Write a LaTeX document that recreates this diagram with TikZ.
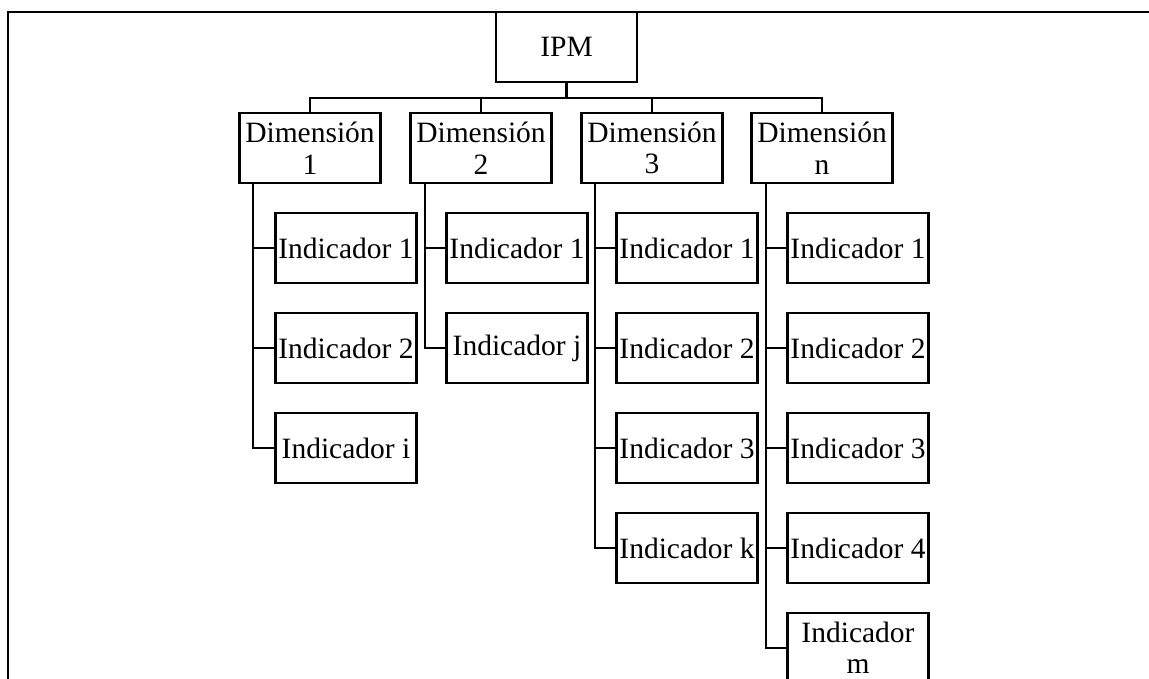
\documentclass[tikz,border=0pt]{standalone}
\usepackage{fontspec}
\setmainfont{Liberation Serif}
\begin{document}
\begin{tikzpicture}[x=1pt,y=-1pt,
  box/.style={draw=black,line width=2.4pt,fill=white,minimum width=141pt,minimum height=70pt,inner sep=0pt,align=center,font=\fontsize{29.5}{31.5}\selectfont},
  conn/.style={draw=black,line width=2.4pt}]
\useasboundingbox (0,0) rectangle (1149,679);
\clip (0,0) rectangle (1149,679);
\fill[white] (0,0) rectangle (1149,679);
\draw[line width=2.2pt] (8,680) -- (8,12) -- (1150,12);
% top
\node[box] (ipm) at (566.5,47) {IPM};
\node[box] (d1) at (310,148) {Dimensión\\1};
\node[box] (d2) at (481,148) {Dimensión\\2};
\node[box] (d3) at (652,148) {Dimensión\\3};
\node[box] (dn) at (822,148) {Dimensión\\n};
\coordinate (bus) at (566.5,98);
\draw[conn] (ipm.south) -- (ipm.south |- bus);
\draw[conn] (d1.north) -- (d1.north |- bus) -- (dn.north |- bus) -- (dn.north);
\draw[conn] (d2.north) -- (d2.north |- bus);
\draw[conn] (d3.north) -- (d3.north |- bus);
% indicators
\node[box] (a1) at (346,248) {Indicador 1};
\node[box] (a2) at (346,348) {Indicador 2};
\node[box] (a3) at (346,448) {Indicador i};
\node[box] (b1) at (517,248) {Indicador 1};
\node[box] (b2) at (517,348) {Indicador j};
\node[box] (c1) at (687,248) {Indicador 1};
\node[box] (c2) at (687,348) {Indicador 2};
\node[box] (c3) at (687,448) {Indicador 3};
\node[box] (c4) at (687,548) {Indicador k};
\node[box] (e1) at (858,248) {Indicador 1};
\node[box] (e2) at (858,348) {Indicador 2};
\node[box] (e3) at (858,448) {Indicador 3};
\node[box] (e4) at (858,548) {Indicador 4};
\node[box] (e5) at (858,648) {Indicador\\m};
\coordinate (v1) at ([xshift=-57pt]d1.south);
\coordinate (v2) at ([xshift=-56pt]d2.south);
\coordinate (v3) at ([xshift=-57pt]d3.south);
\coordinate (vn) at ([xshift=-56pt]dn.south);
\foreach \t in {a1,a2,a3} \draw[conn] (v1) |- (\t.west);
\foreach \t in {b1,b2} \draw[conn] (v2) |- (\t.west);
\foreach \t in {c1,c2,c3,c4} \draw[conn] (v3) |- (\t.west);
\foreach \t in {e1,e2,e3,e4,e5} \draw[conn] (vn) |- (\t.west);
\end{tikzpicture}
\end{document}
